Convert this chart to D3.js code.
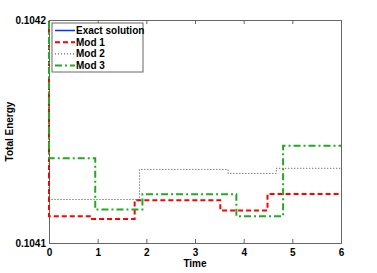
<!DOCTYPE html>
<html>
<head>
<meta charset="utf-8">
<script src="https://cdn.jsdelivr.net/npm/d3@7"></script>
<style>
  body { margin: 0; background: #fff; }
  text { font-family: "Liberation Sans", Arial, sans-serif; font-weight: bold; }
</style>
</head>
<body>
<div id="chart"></div>
<script>
// data
var xTicks = [0, 1, 2, 3, 4, 5, 6];
var yTicks = [0.1041, 0.1042];
var startValue = 0.1043; // every run starts above the plotted window

var exactTimes = [0, 6];
var exactValues = [0.1043, 0.1043];

var mod1Times = [0, 0.86, 1.76, 3.52, 4.49, 6];
var mod1Values = [0.104112, 0.1041108, 0.1041192, 0.1041146, 0.104122, 0.104122];

var mod2Times = [0, 1.86, 3.68, 4.67, 6];
var mod2Values = [0.1041195, 0.104133, 0.1041312, 0.1041335, 0.1041335];

var mod3Times = [0, 0.95, 1.92, 3.85, 4.81, 6];
var mod3Values = [0.104138, 0.104115, 0.1041219, 0.104112, 0.1041436, 0.1041436];

var labels = ["Exact solution", "Mod 1", "Mod 2", "Mod 3"];

var margin = {top: 20, right: 36, bottom: 30, left: 49},
    width = 377 - margin.left - margin.right,
    height = 273 - margin.top - margin.bottom;

var svg = d3.select("#chart")
  .append("svg")
  .attr("width", 377)
  .attr("height", 273)
  .append("g")
  .attr("transform", "translate(" + margin.left + "," + margin.top + ")");

var x = d3.scaleLinear().domain([0, 6]).range([0, width]);
var y = d3.scaleLinear().domain([0.1041, 0.1042]).range([height, 0]);

svg.append("defs").append("clipPath").attr("id", "clip")
  .append("rect").attr("x", -2).attr("width", width + 2).attr("height", height);

function points(times, values, withStart) {
  var pts = times.map(function(t, i) { return [t, values[i]]; });
  if (withStart) pts.unshift([0, startValue]);
  return pts;
}

var series = [
  {pts: points(exactTimes, exactValues, false), color: "#0033ff", width: 1.5, dash: null},
  {pts: points(mod1Times, mod1Values, true), color: "#ff0000", width: 2, dash: "5,3"},
  {pts: points(mod2Times, mod2Values, true), color: "#444444", width: 1, dash: "1,2"},
  {pts: points(mod3Times, mod3Values, true), color: "#22aa22", width: 2, dash: "7,3,2,3"}
];

var line = d3.line()
  .x(function(d) { return x(d[0]); })
  .y(function(d) { return y(d[1]); })
  .curve(d3.curveStepAfter);

// axes, matlab style with inward ticks on all sides
var axisColor = "#666";
svg.append("g")
  .attr("transform", "translate(0," + height + ")")
  .call(d3.axisBottom(x).tickValues(xTicks).tickSize(-4).tickPadding(6).tickFormat(d3.format("d")));
svg.append("g")
  .call(d3.axisTop(x).tickValues(xTicks).tickSize(-4).tickFormat(""));
svg.append("g")
  .call(d3.axisLeft(y).tickValues(yTicks).tickSize(-4).tickPadding(3).tickFormat(d3.format(".4f")));
svg.append("g")
  .attr("transform", "translate(" + width + ",0)")
  .call(d3.axisRight(y).tickValues(yTicks).tickSize(-4).tickFormat(""));

svg.selectAll(".domain, .tick line").attr("stroke", axisColor);
svg.selectAll(".tick text").attr("fill", "#000").style("font-size", "10px");

var plot = svg.append("g").attr("clip-path", "url(#clip)");
series.forEach(function(s) {
  plot.append("path")
    .attr("d", line(s.pts))
    .attr("fill", "none")
    .attr("stroke", s.color)
    .attr("stroke-width", s.width)
    .attr("stroke-dasharray", s.dash);
});

// axis titles
svg.append("text")
  .attr("x", width / 2)
  .attr("y", height + 24)
  .attr("text-anchor", "middle")
  .style("font-size", "10px")
  .text("Time");

svg.append("text")
  .attr("transform", "translate(-36," + (height / 2) + ") rotate(-90)")
  .attr("text-anchor", "middle")
  .style("font-size", "10px")
  .text("Total Energy");

// legend
var legend = svg.append("g").attr("transform", "translate(3,3)");
legend.append("rect")
  .attr("width", 91)
  .attr("height", 49)
  .attr("fill", "#fff")
  .attr("stroke", axisColor);
series.forEach(function(s, i) {
  var ly = 7.5 + i * 11.7;
  legend.append("line")
    .attr("x1", 3).attr("x2", 23)
    .attr("y1", ly).attr("y2", ly)
    .attr("stroke", s.color)
    .attr("stroke-width", s.width)
    .attr("stroke-dasharray", s.dash);
  legend.append("text")
    .attr("x", 24)
    .attr("y", ly + 3.5)
    .style("font-size", "10px")
    .text(labels[i]);
});
</script>
</body>
</html>
